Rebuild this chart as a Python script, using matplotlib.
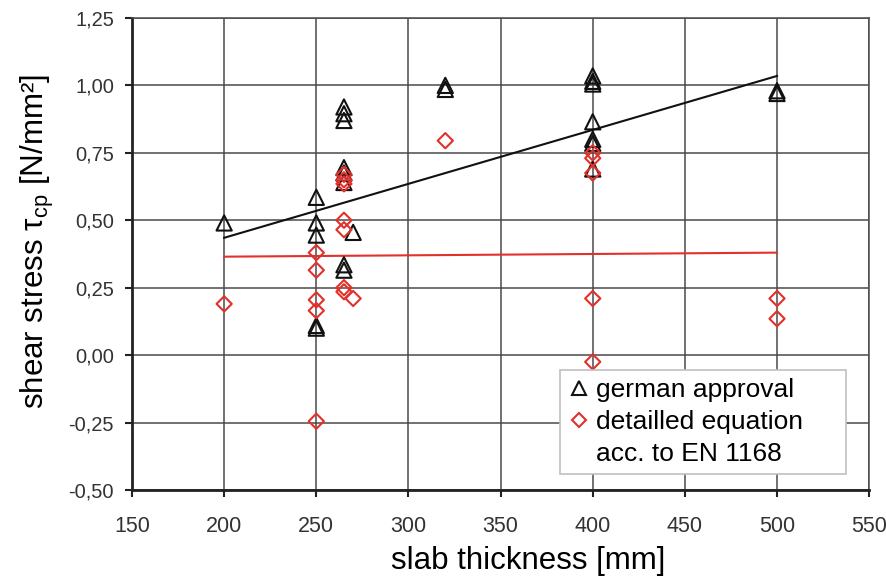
import numpy as np
import matplotlib
matplotlib.use('Agg')
import matplotlib.pyplot as plt
from matplotlib.lines import Line2D
from matplotlib.ticker import FuncFormatter

plt.rcParams['font.family'] = ['Liberation Sans', 'DejaVu Sans']
plt.rcParams['mathtext.fontset'] = 'custom'
plt.rcParams['mathtext.rm'] = 'Liberation Sans'
plt.rcParams['mathtext.it'] = 'Liberation Sans:italic'

# german approval (triangles)
german_x = [200, 250, 250, 250, 250, 250, 265, 265, 265, 265, 265, 265,
            265, 265, 270, 320, 320, 400, 400, 400, 400, 400, 400, 400, 500, 500]
german_y = [0.49, 0.585, 0.49, 0.445, 0.10, 0.11, 0.92, 0.895, 0.87, 0.695, 0.675, 0.64,
            0.335, 0.315, 0.455, 0.985, 1.0, 1.035, 1.015, 1.005, 0.865, 0.80, 0.785, 0.69, 0.97, 0.98]

# detailled equation acc. to EN 1168 (diamonds)
en_x = [200, 250, 250, 250, 250, 250, 265, 265, 265, 265, 265, 265, 265,
        270, 320, 400, 400, 400, 400, 400, 500, 500]
en_y = [0.19, 0.38, 0.315, 0.205, 0.165, -0.245, 0.67, 0.65, 0.635, 0.50, 0.465, 0.25, 0.235,
        0.21, 0.795, 0.75, 0.73, 0.675, 0.21, -0.025, 0.21, 0.135]

# trend lines (end points)
trend_x = [200, 500]
trend_german = [0.435, 1.035]
trend_en = [0.365, 0.38]

red = '#e2302b'
black = '#111111'

fig = plt.figure(figsize=(8.86, 5.79), dpi=100)
ax = fig.add_axes([0.149, 0.1537, 0.832, 0.8153])

ax.plot(trend_x, trend_german, color=black, lw=1.5, zorder=2)
ax.plot(trend_x, trend_en, color=red, lw=1.5, zorder=2)

ax.scatter(german_x, german_y, marker='^', s=120, facecolors='none',
           edgecolors=black, linewidths=1.5, zorder=3)
ax.scatter(en_x, en_y, marker='D', s=60, facecolors='none',
           edgecolors=red, linewidths=1.5, zorder=3)

ax.set_xlim(150, 550)
ax.set_ylim(-0.5, 1.25)
ax.set_xticks(np.arange(150, 551, 50))
ax.set_yticks(np.arange(-0.5, 1.26, 0.25))
ax.yaxis.set_major_formatter(FuncFormatter(lambda v, p: '{:.2f}'.format(v).replace('.', ',')))

ax.grid(True, color='#4a4a4a', lw=1.1)
ax.set_axisbelow(True)
for side in ['top', 'right']:
    ax.spines[side].set_color('#4a4a4a')
    ax.spines[side].set_linewidth(1.1)
for side in ['left', 'bottom']:
    ax.spines[side].set_color('#222222')
    ax.spines[side].set_linewidth(2.0)

ax.tick_params(axis='both', labelcolor='#333333', length=5, width=1.5,
               direction='out', color='#222222')
ax.tick_params(axis='y', labelsize=14.5, pad=8)
ax.tick_params(axis='x', labelsize=15.5, pad=14)

ax.set_xlabel('slab thickness [mm]', fontsize=22.5)
ax.xaxis.set_label_coords(0.537, -0.118)
ax.set_ylabel(r'shear stress $\mathrm{\tau}_{\mathrm{cp}}$ [N/mm²]', fontsize=22.5)
ax.yaxis.set_label_coords(-0.103, 0.527)

handles = [Line2D([], [], marker='^', ls='none', ms=10, mfc='none', mec=black, mew=1.5),
           Line2D([], [], marker='D', ls='none', ms=7, mfc='none', mec=red, mew=1.5),
           Line2D([], [], ls='none')]
labels = ['german approval', 'detailled equation', 'acc. to EN 1168']
leg = ax.legend(handles, labels, loc='upper left', bbox_to_anchor=(0.581, 0.254, 0.388, 0),
                mode='expand', borderaxespad=0, fontsize=19, frameon=True, fancybox=False,
                edgecolor='#c0c0c0', framealpha=1, handletextpad=0.2,
                borderpad=0.3, handlelength=0.85, labelspacing=0.3)
leg.get_frame().set_linewidth(1.2)

fig.savefig('out.png', dpi=100)
